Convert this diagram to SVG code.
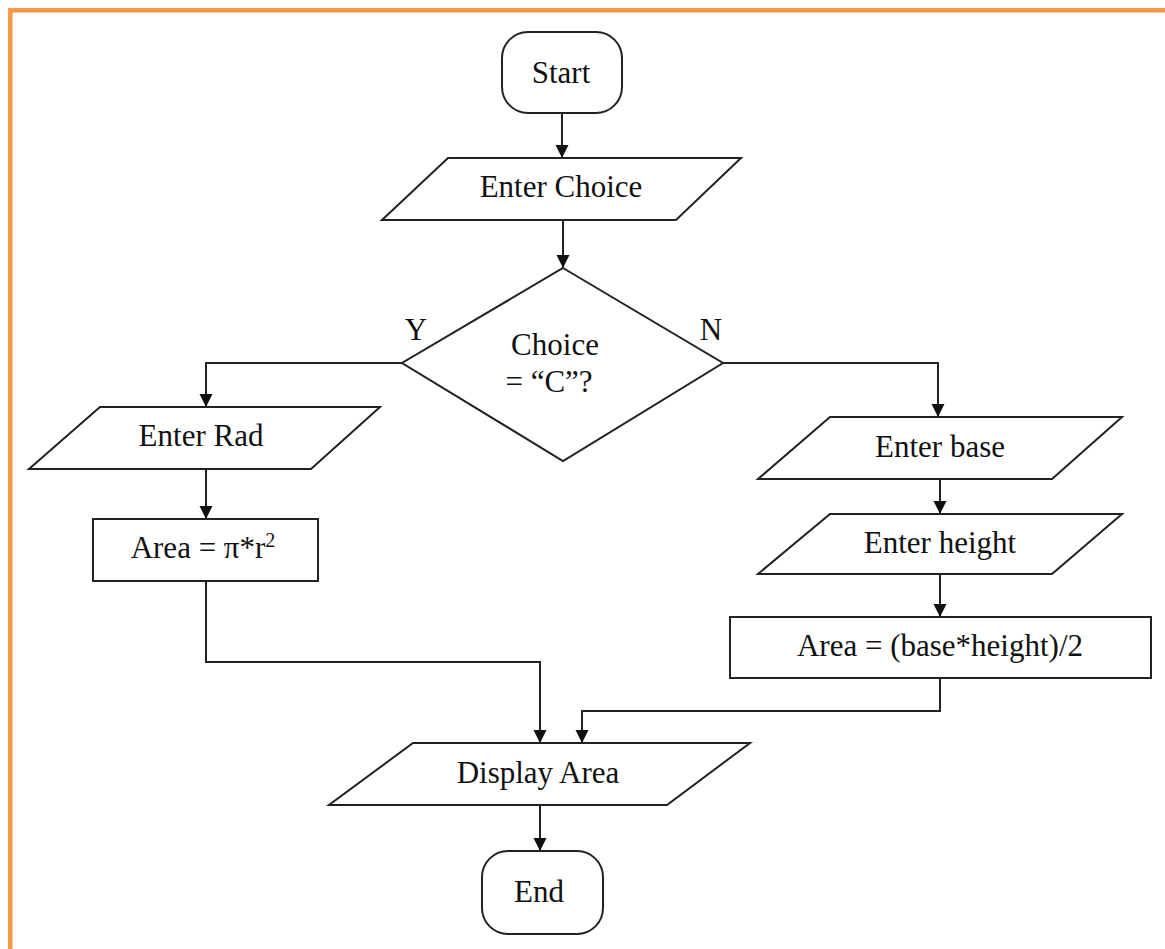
<svg xmlns="http://www.w3.org/2000/svg" width="1165" height="949" viewBox="0 0 1165 949">
<defs>
<style>
.shape{fill:#fff;stroke:#222;stroke-width:2}
.lbl{font-family:"Liberation Serif","Times New Roman",serif;font-size:31px;fill:#111;text-anchor:middle}
.con{fill:none;stroke:#222;stroke-width:2}
</style>
<marker id="arr" markerUnits="userSpaceOnUse" markerWidth="14" markerHeight="14" refX="13" refY="6.5" orient="auto">
<path d="M0,0 L13,6.5 L0,13 z" fill="#111"/>
</marker>
</defs>
<rect x="0" y="0" width="1165" height="949" fill="#fff"/>
<rect x="10.3" y="10.3" width="1200" height="1000" fill="none" stroke="#F79646" stroke-width="4.5"/>

<g id="connectors">
<path class="con" d="M562,113 L562,158" marker-end="url(#arr)"/>
<path class="con" d="M563,220 L563,268" marker-end="url(#arr)"/>
<path class="con" d="M402,363 L206,363 L206,407" marker-end="url(#arr)"/>
<path class="con" d="M723,363 L938,363 L938,417" marker-end="url(#arr)"/>
<path class="con" d="M206,469 L206,519" marker-end="url(#arr)"/>
<path class="con" d="M206,581 L206,662 L540,662 L540,743" marker-end="url(#arr)"/>
<path class="con" d="M940,479 L940,514" marker-end="url(#arr)"/>
<path class="con" d="M940,574 L940,617" marker-end="url(#arr)"/>
<path class="con" d="M940,678 L940,711 L582,711 L582,743" marker-end="url(#arr)"/>
<path class="con" d="M540,805 L540,851" marker-end="url(#arr)"/>
<text class="lbl" x="416" y="340">Y</text>
<text class="lbl" x="711" y="340">N</text>
</g>

<g id="start">
<rect class="shape" x="502" y="32" width="120" height="81" rx="26"/>
<text class="lbl" x="561" y="83">Start</text>
</g>
<g id="enter-choice">
<polygon class="shape" points="448,158 741,158 676,220 382,220"/>
<text class="lbl" x="561" y="197">Enter Choice</text>
</g>
<g id="decision">
<polygon class="shape" points="563,268 723,363 563,461 402,363"/>
<text class="lbl" x="555" y="355">Choice</text>
<text class="lbl" x="549" y="392">= “C”?</text>
</g>
<g id="enter-rad">
<polygon class="shape" points="100,407 380,407 311,469 29,469"/>
<text class="lbl" x="201" y="446">Enter Rad</text>
</g>
<g id="area-circle">
<rect class="shape" x="93" y="519" width="225" height="62"/>
<text class="lbl" x="203" y="558">Area = π*r<tspan font-size="20" dy="-11">2</tspan></text>
</g>
<g id="enter-base">
<polygon class="shape" points="830,417 1122,417 1052,479 758,479"/>
<text class="lbl" x="940" y="457">Enter base</text>
</g>
<g id="enter-height">
<polygon class="shape" points="830,514 1122,514 1052,574 758,574"/>
<text class="lbl" x="940" y="553">Enter height</text>
</g>
<g id="area-triangle">
<rect class="shape" x="730" y="617" width="421" height="61"/>
<text class="lbl" x="940" y="656">Area = (base*height)/2</text>
</g>
<g id="display-area">
<polygon class="shape" points="413,743 750,743 667,805 329,805"/>
<text class="lbl" x="538" y="783">Display Area</text>
</g>
<g id="end">
<rect class="shape" x="482" y="851" width="121" height="83" rx="26"/>
<text class="lbl" x="539" y="902">End</text>
</g>
</svg>
